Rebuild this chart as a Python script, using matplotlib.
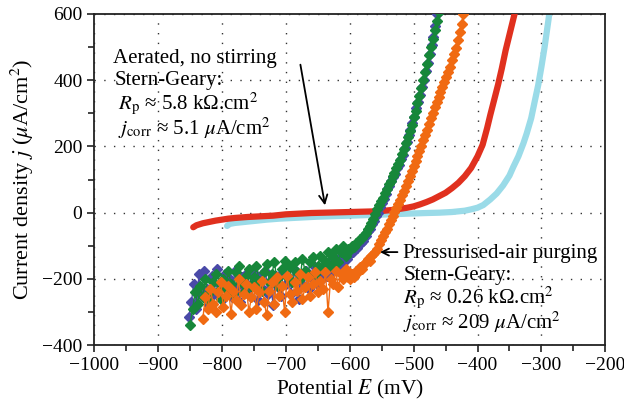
# polarisation_curves.py

import matplotlib
matplotlib.use("Agg")
import matplotlib.pyplot as plt
from matplotlib.ticker import MultipleLocator

plt.rcParams['font.family'] = ['Liberation Serif', 'DejaVu Serif']
plt.rcParams['mathtext.fontset'] = 'stix'

# Aerated, no stirring (thick red / light blue curves)
red_E = [-845, -840, -830, -820, -810, -800, -790, -780, -760, -740, -720, -700, -680, -660,
         -640, -620, -600, -580, -560, -550, -540, -530, -520, -510, -500, -490, -480, -470,
         -460, -450, -440, -430, -420, -410, -400, -392, -385, -380, -374, -368, -362, -356,
         -349, -342, -338]
red_j = [-44, -38, -32, -28, -24, -21, -18, -16, -13, -11, -9, -5, -3, -1,
         0, 1, 2, 3, 4, 5, 7, 9, 12, 15, 19, 25, 32, 40,
         50, 60, 74, 90, 110, 135, 170, 205, 255, 295, 340, 385, 435, 490,
         545, 600, 640]

cyan_E = [-792, -788, -780, -770, -750, -730, -710, -690, -670, -650, -620, -600, -570, -540,
          -510, -480, -460, -440, -420, -410, -400, -391, -380, -370, -360, -350, -344, -336,
          -328, -323, -316, -310, -305, -300, -295, -289, -285]
cyan_j = [-40, -34, -31, -29, -25, -21, -18, -16, -14, -12, -10, -9, -7, -5,
          -3, -1, 0, 2, 6, 10, 15, 23, 40, 58, 82, 112, 138, 170,
          210, 239, 285, 340, 385, 440, 500, 581, 640]

# Pressurised-air purging (noisy diamond series)
blue_E = [-852, -848, -844, -840, -836, -832, -828, -824, -820, -816, -812, -808, -804, -800,
          -796, -792, -788, -784, -780, -776, -772, -768, -764, -760, -756, -752, -748, -744,
          -740, -736, -732, -728, -724, -720, -716, -712, -708, -704, -700, -696, -692, -688,
          -684, -680, -676, -672, -668, -664, -660, -656, -652, -648, -644, -640, -636, -632,
          -628, -624, -620, -616, -612, -608, -604,
          -601, -598, -595, -592, -589, -586, -583, -580, -577, -574, -571, -568, -565, -562,
          -559, -556, -553, -550, -547, -544, -541, -538, -535, -532, -529, -526, -523, -520,
          -517, -514, -511, -508, -505, -502, -499, -496, -493, -490, -487, -484, -481, -478,
          -475, -472, -469, -466, -463]
blue_j = [-315, -270, -215, -290, -185, -250, -175, -230, -280, -190, -245, -170, -215, -265,
          -185, -230, -200, -255, -175, -220, -270, -195, -235, -180, -250, -210, -185, -265,
          -200, -230, -175, -245, -205, -280, -190, -225, -250, -180, -215, -195, -245, -170,
          -210, -260, -185, -220, -175, -230, -195, -160, -215, -175, -200, -160, -190, -150,
          -175, -140, -170, -135, -155, -125, -140,
          -128, -115, -120, -105, -108, -95, -92, -85, -72, -70, -55, -48, -35, -25,
          -10, 0, 18, 28, 42, 55, 72, 80, 95, 108, 118, 135, 145, 162,
          175, 195, 212, 235, 250, 272, 290, 315, 335, 355, 380, 400, 428, 452,
          478, 505, 530, 565, 600]

green_E = [-850, -846, -842, -838, -834, -830, -826, -822, -818, -814, -810, -806, -802, -798,
           -794, -790, -786, -782, -778, -774, -770, -766, -762, -758, -754, -750, -746, -742,
           -738, -734, -730, -726, -722, -718, -714, -710, -706, -702, -698, -694, -690, -686,
           -682, -678, -674, -670, -666, -662, -658, -654, -650, -646, -642, -638, -634, -630,
           -626, -622, -618, -614, -610, -606, -602,
           -599, -596, -593, -590, -587, -584, -581, -578, -575, -572, -569, -566, -563, -560,
           -557, -554, -551, -548, -545, -542, -539, -536, -533, -530, -527, -524, -521, -518,
           -515, -512, -509, -506, -503, -500, -497, -494, -491, -488, -485, -482, -479, -476,
           -473, -470, -467, -464, -461]
green_j = [-340, -290, -240, -275, -220, -255, -200, -245, -270, -210, -185, -235, -260, -200,
           -230, -175, -215, -245, -180, -160, -210, -240, -190, -170, -220, -195, -160, -205,
           -235, -180, -155, -210, -185, -150, -200, -225, -170, -145, -195, -165, -210, -150,
           -180, -200, -140, -175, -190, -150, -135, -185, -160, -130, -170, -145, -120, -160,
           -135, -110, -150, -120, -100, -130, -110,
           -112, -100, -104, -92, -88, -80, -76, -66, -62, -50, -40, -30, -18, -5,
           10, 22, 35, 45, 60, 72, 88, 96, 110, 120, 135, 148, 160, 178,
           192, 210, 228, 248, 265, 288, 308, 332, 352, 375, 400, 425, 450, 475,
           500, 525, 552, 578, 605]

orange_E = [-830, -826, -822, -818, -814, -810, -806, -802, -798, -794, -790, -786, -782, -778,
            -774, -770, -766, -762, -758, -754, -750, -746, -742, -738, -734, -730, -726, -722,
            -718, -714, -710, -706, -702, -698, -694, -690, -686, -682, -678, -674, -670, -666,
            -662, -658, -654, -650, -646, -642, -638, -634, -630, -626, -622, -618, -614, -610,
            -606, -602,
            -599, -596, -593, -590, -587, -584, -581, -578, -575, -572, -569, -566, -563, -560,
            -557, -554, -551, -548, -545, -542, -539, -536, -533, -530, -527, -524, -521, -518,
            -515, -512, -509, -506, -503, -500, -497, -494, -491, -488, -485, -482, -479, -476,
            -473, -470, -467, -464, -461, -458, -455, -452, -449, -446, -443, -440, -437, -434,
            -431, -428, -425, -422]
orange_j = [-320, -255, -290, -230, -275, -300, -240, -210, -285, -250, -220, -305, -235, -265,
            -200, -280, -245, -215, -300, -255, -225, -290, -240, -205, -270, -310, -235, -210,
            -275, -195, -250, -220, -300, -190, -245, -270, -210, -235, -185, -260, -225, -195,
            -250, -215, -180, -240, -205, -230, -180, -300, -200, -215, -175, -225, -185, -200,
            -170, -195,
            -200, -185, -195, -175, -180, -165, -170, -155, -150, -140, -145, -130, -125, -118,
            -110, -95, -82, -70, -58, -48, -35, -22, -10, 2, 15, 25, 38, 52,
            65, 80, 95, 110, 125, 140, 155, 170, 185, 200, 218, 235, 250, 268,
            285, 302, 318, 335, 350, 365, 380, 395, 410, 425, 440, 460, 478, 498,
            520, 545, 570, 600]

fig = plt.figure(figsize=(6.24, 4.09), dpi=100)
ax = fig.add_axes([0.151, 0.156, 0.819, 0.810])

ax.plot(cyan_E, cyan_j, color='#9adbe8', lw=4.5, solid_capstyle='round', zorder=2)
ax.plot(red_E, red_j, color='#e0301e', lw=4.5, solid_capstyle='round', zorder=3)
ax.plot(blue_E, blue_j, '-D', color='#4a4aa8', ms=5.0, lw=1.0, zorder=4)
ax.plot(green_E, green_j, '-D', color='#17873a', ms=5.0, lw=1.0, zorder=5)
ax.plot(orange_E, orange_j, '-D', color='#f06a12', ms=5.0, lw=1.0, zorder=6)

ax.set_xlim(-1000, -200)
ax.set_ylim(-400, 600)
ax.xaxis.set_major_locator(MultipleLocator(100))
ax.xaxis.set_minor_locator(MultipleLocator(50))
ax.yaxis.set_major_locator(MultipleLocator(200))
ax.yaxis.set_minor_locator(MultipleLocator(100))
ax.tick_params(which='both', direction='out', labelsize=14, width=1.2, color='#222222')
ax.tick_params(which='major', length=5)
ax.tick_params(which='minor', length=4)
ax.grid(True, which='major', color='#333333', linestyle=(0, (1, 6)), lw=1.0)
for s in ax.spines.values():
    s.set_linewidth(1.3)
    s.set_color('#222222')

ax.set_xlabel('Potential $E$ (mV)', fontsize=15.5, labelpad=3)
ax.set_ylabel('Current density $j$ ($\\mu$A/cm$^2$)', fontsize=16, labelpad=4)

# annotations
fs = 15
ax.text(-970, 465, 'Aerated, no stirring', fontsize=fs, va='center')
ax.text(-968, 398, 'Stern-Geary:', fontsize=fs, va='center')
ax.text(-963, 328, '$R_\\mathrm{p}$ \u2248 5.8 k\u03a9.cm$^2$', fontsize=fs, va='center')
ax.text(-963, 255, '$j_\\mathrm{corr}$ \u2248 5.1 $\\mu$A/cm$^2$', fontsize=fs, va='center')

ax.text(-516, -122, 'Pressurised-air purging', fontsize=fs, va='center')
ax.text(-516, -189, 'Stern-Geary:', fontsize=fs, va='center')
ax.text(-516, -256, '$R_\\mathrm{p}$ \u2248 0.26 k\u03a9.cm$^2$', fontsize=fs, va='center')
ax.text(-516, -331, '$j_\\mathrm{corr}$ \u2248 209 $\\mu$A/cm$^2$', fontsize=fs, va='center')

ax.annotate('', xy=(-638, 14), xytext=(-678, 455),
            arrowprops=dict(arrowstyle='->,head_length=0.6,head_width=0.3', lw=1.3, color='black'))
ax.annotate('', xy=(-557, -119), xytext=(-521, -119),
            arrowprops=dict(arrowstyle='->,head_length=0.5,head_width=0.25', lw=1.3, color='black'),
            zorder=7)

fig.savefig('out.png', dpi=100)
